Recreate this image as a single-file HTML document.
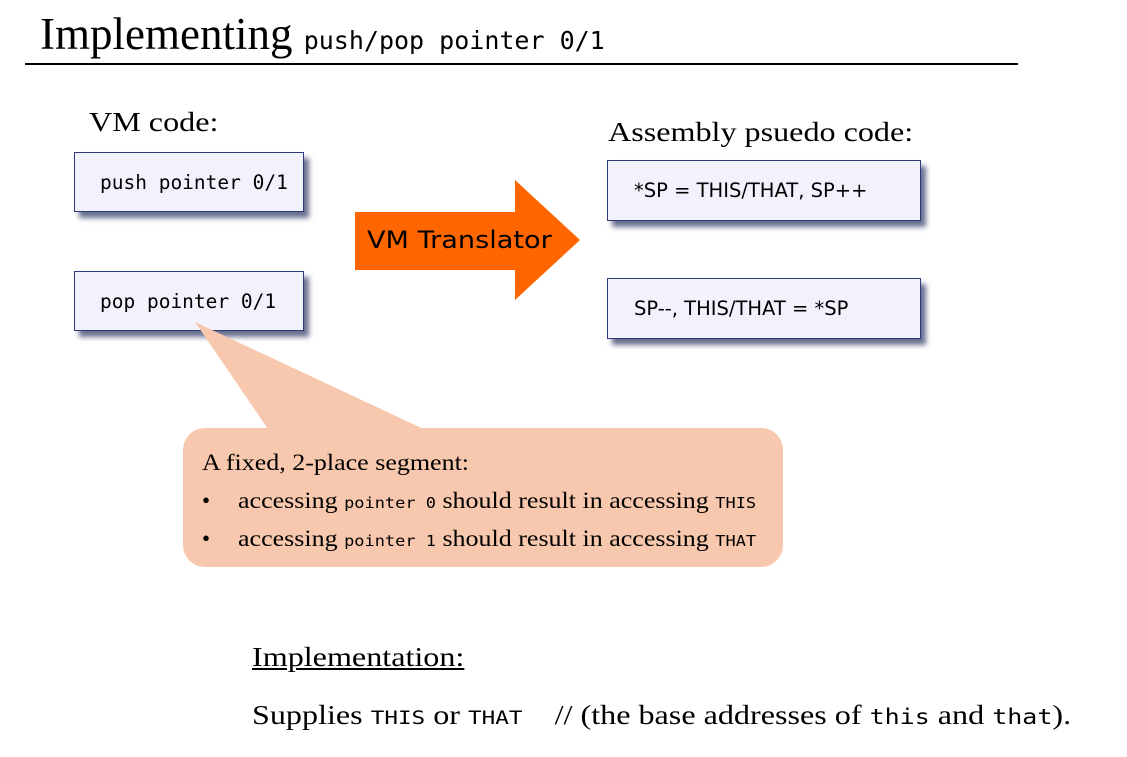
<!DOCTYPE html>
<html><head><meta charset="utf-8"><style>
body{margin:0;width:1127px;height:757px;background:#fff;position:relative;overflow:hidden;font-family:"Liberation Serif",serif;color:#000}
.a{position:absolute;white-space:nowrap}
.m{font-family:"DejaVu Sans Mono","Liberation Mono",monospace}
.sx{transform-origin:0 0;transform:scaleX(1.19)}
.sc{transform-origin:0 0;transform:scaleX(1.13)}
.box{position:absolute;background:#f2f2fd;border:1.5px solid #2e3a78;box-shadow:5px 6px 5px #6a7090;box-sizing:border-box;font-family:"DejaVu Sans Mono","Liberation Mono",monospace;font-size:19.5px;display:flex;align-items:center}
.sans{font-family:"DejaVu Sans","Liberation Sans",sans-serif;font-size:19.5px}
</style></head><body>
<div class="a" style="left:40px;top:8px;font-size:45px">Implementing <span class="m" style="font-size:25px">push/pop pointer 0/1</span></div>
<div class="a" style="left:25px;top:63px;width:993px;height:2px;background:#000"></div>
<div class="a sx" style="left:89px;top:107px;font-size:27px">VM code:</div>
<div class="a sx" style="left:608px;top:117px;font-size:27px">Assembly psuedo code:</div>
<div class="box" style="left:74px;top:152px;width:230px;height:60px;padding-left:25px">push pointer 0/1</div>
<div class="box" style="left:74px;top:271px;width:230px;height:60px;padding-left:25px">pop pointer 0/1</div>
<div class="box sans" style="left:607px;top:160px;width:314px;height:61px;padding-left:26px">*SP = THIS/THAT, SP++</div>
<div class="box sans" style="left:607px;top:278px;width:314px;height:61px;padding-left:26px">SP--, THIS/THAT = *SP</div>
<svg class="a" style="left:0;top:0" width="1127" height="757">
<polygon points="355,212 515,212 515,180 580,240 515,300 515,270 355,270" fill="#ff6600"/>
<polygon points="195,322 270,432 430,432" fill="#f7c8ad"/>
<rect x="183" y="428" width="600" height="139" rx="22" fill="#f7c8ad"/>
</svg>
<div class="a sc" style="left:367px;top:226px;font-family:'DejaVu Sans','Liberation Sans',sans-serif;font-size:24px;color:#000">VM Translator</div>
<div class="a sc" style="left:202px;top:450px;font-size:23px">A fixed, 2-place segment:</div>
<div class="a" style="left:202px;top:488px;font-size:23px"><span style="display:inline-block;width:36px">•</span><span class="sc" style="display:inline-block">accessing <span class="m" style="font-size:15px">pointer 0</span> should result in accessing <span class="m" style="font-size:15px">THIS</span></span></div>
<div class="a" style="left:202px;top:526px;font-size:23px"><span style="display:inline-block;width:36px">•</span><span class="sc" style="display:inline-block">accessing <span class="m" style="font-size:15px">pointer 1</span> should result in accessing <span class="m" style="font-size:15px">THAT</span></span></div>
<div class="a sx" style="left:252px;top:642px;font-size:27px;text-decoration:underline">Implementation:</div>
<div class="a sx" style="left:252px;top:700px;font-size:27px">Supplies <span class="m" style="font-size:19px">THIS</span> or <span class="m" style="font-size:19px">THAT</span> &nbsp;&nbsp;&nbsp;// (the base addresses of <span class="m" style="font-size:21px">this</span> and <span class="m" style="font-size:21px">that</span>).</div>
</body></html>
